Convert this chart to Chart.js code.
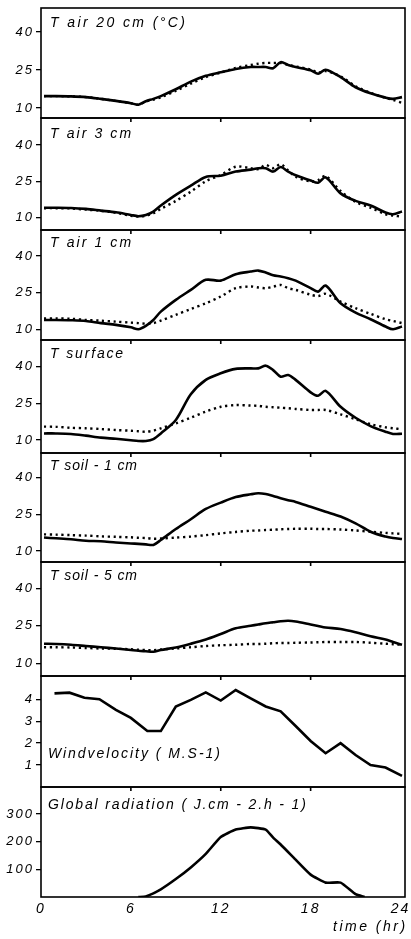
<!DOCTYPE html>
<html><head><meta charset="utf-8">
<script src="https://cdn.jsdelivr.net/npm/chart.js@4.4.1/dist/chart.umd.min.js"></script>
<style>
html,body{margin:0;padding:0;background:#fff;width:411px;height:939px;overflow:hidden;position:relative;}
canvas{position:absolute;left:0;}
.lbl{position:absolute;font-family:"Liberation Sans",Arial,sans-serif;font-style:italic;font-size:14px;line-height:14px;color:#000;white-space:pre;}
</style></head><body>
<script>
// ---- data ----
const hours = [0.2,1,2,3,4,5,6,6.5,7,7.5,8,9,10,11,12,13,14,14.5,15,15.5,16,16.5,17,18,18.5,19,20,21,22,23,23.5,24.1];
const tAir20Solid  = [14.7,14.7,14.6,14.3,13.6,12.8,11.9,11.3,12.7,13.6,14.7,17.4,20.4,22.7,24.1,25.4,26.2,26.2,26.2,25.7,28.1,27.0,26.2,24.9,23.5,25.1,22.2,18.2,15.8,14.1,13.6,14.3];
const tAir20Dotted = [14.7,14.7,14.6,14.3,13.6,12.8,11.9,11.3,12.5,13.3,14.2,16.8,19.6,22.2,24.0,25.8,27.0,27.5,27.8,27.8,27.8,27.0,26.4,25.2,24.0,24.6,22.5,18.6,16.0,14.0,13.2,12.0];
const tAir3Solid   = [14.1,14.1,14.0,13.6,12.9,12.2,11.1,10.6,11.1,12.5,15.0,19.4,23.2,26.8,27.3,29.0,29.8,30.4,30.4,29.0,30.9,29.0,27.5,25.3,24.4,26.6,20.0,16.9,15.0,12.1,11.4,12.5];
const tAir3Dotted  = [13.9,13.9,13.8,13.3,12.8,12.0,10.8,10.4,10.8,11.8,13.6,16.9,20.7,25.0,27.6,31.0,30.4,30.0,31.7,30.4,32.0,29.5,26.9,24.9,25.5,27.2,21.0,16.5,14.1,11.4,10.9,10.4];
const tAir1Solid   = [13.8,13.8,13.7,13.4,12.5,11.8,10.8,10.0,11.4,13.8,17.2,22.0,26.1,30.2,29.9,32.5,33.6,34.0,33.2,32.1,31.6,30.9,29.9,26.8,25.4,27.9,20.6,16.8,14.1,11.1,10.0,11.1];
const tAir1Dotted  = [14.4,14.4,14.3,13.8,13.5,13.1,12.7,12.5,12.3,12.5,13.5,15.9,18.3,20.6,23.4,26.8,27.5,27.1,26.8,27.4,28.1,26.8,26.1,24.1,23.6,24.5,21.3,18.6,16.3,14.1,13.4,12.5];
const tSurfSolid   = [12.7,12.7,12.5,11.8,11.0,10.5,9.9,9.6,9.6,10.4,12.7,18.2,28.7,34.6,37.3,39.1,39.3,39.3,40.4,38.6,35.9,36.6,34.6,29.5,28.1,30.1,23.6,19.1,15.7,13.4,12.5,12.6];
const tSurfDotted  = [15.5,15.4,15.0,14.8,14.5,14.1,13.8,13.6,13.4,13.8,14.8,16.8,19.1,21.6,23.6,24.3,24.1,24.0,23.6,23.4,23.2,23.0,22.7,22.3,22.3,22.3,20.5,18.5,16.5,15.2,14.8,14.4];
const tSoil1Solid  = [15.5,15.2,14.8,14.2,14.0,13.5,13.1,12.9,12.7,12.5,14.5,19.0,23.0,27.2,29.8,32.1,33.2,33.6,33.3,32.5,31.6,30.8,30.1,28.1,27.1,26.1,24.1,21.3,17.9,15.9,15.3,14.9];
const tSoil1Dotted = [16.8,16.7,16.5,16.3,16.0,15.8,15.6,15.4,15.3,15.0,15.1,15.5,15.9,16.5,17.2,17.8,18.3,18.4,18.6,18.7,18.9,19.0,19.1,19.1,19.0,19.0,18.8,18.4,17.9,17.4,17.2,17.0];
const tSoil5Solid  = [17.8,17.7,17.4,16.9,16.4,15.9,15.3,15.0,14.8,14.6,15.3,16.3,17.8,19.5,21.7,24.0,25.0,25.5,26.0,26.4,26.8,27.0,26.7,25.5,24.9,24.3,23.7,22.4,20.8,19.5,18.5,17.4];
const tSoil5Dotted = [16.4,16.4,16.3,16.1,15.9,15.8,15.6,15.4,15.3,15.2,15.5,15.9,16.4,16.9,17.2,17.4,17.7,17.7,17.8,18.0,18.1,18.1,18.2,18.3,18.4,18.5,18.5,18.5,18.2,17.8,17.6,17.4];
const windHours = [0.9,1.9,2.9,3.9,5,6,7.1,8,9,10,11,12,13,14,15,16,17,18,19,20,21,22,23,24.1];
const wind      = [4.27,4.3,4.07,4.0,3.52,3.15,2.55,2.55,3.67,3.97,4.31,3.94,4.42,4.04,3.67,3.45,2.78,2.1,1.54,2.0,1.46,1.0,0.89,0.51];
const radHours  = [6.5,7,8,9,10,11,12,13,14,15,15.5,16,17,18,19,20,21,21.6];
const radiation = [0,2,28,65,107,156,217,244,252,244,215,190,135,81,52,52,10,0];
const xTickValues    = [0,6,12,18,24];
const tempTickValues = [10,25,40];
const windTickValues = [1,2,3,4];
const radTickValues  = [100,200,300];
const panelTitles = ["T air 20 cm (°C)","T air 3 cm","T air 1 cm","T surface","T soil - 1 cm","T soil - 5 cm","Windvelocity ( M.S-1)","Global radiation ( J.cm - 2.h - 1)"];

// ---- layout / style ----
const FONT = '"Liberation Sans", Arial, sans-serif';
const INK = '#000';
const edges = [8,118,230,340,453,562,676,787,897];
const titlePos = [[50,27,2.4],[50,138,2.1],[50,247,2.1],[50,358,1.85],[50,470,0.9],[50,580,0.9],[48,758,1.95],[48,809,1.85]];

const pair = (xs, ys) => xs.map((x,i)=>({x:x, y:ys[i]}));
const solid = (xs, ys, t) => ({data:pair(xs,ys), borderColor:INK, borderWidth:2.6, pointRadius:0, tension:t, fill:false});
const dotted = (xs, ys) => ({data:pair(xs,ys), borderColor:INK, borderWidth:2.4, borderDash:[2.2,3.6], pointRadius:0, tension:0.3, fill:false});

const panels = [
  {sets:[solid(hours,tAir20Solid,0.3), dotted(hours,tAir20Dotted)], min:6.05, max:49.5, ticks:tempTickValues},
  {sets:[solid(hours,tAir3Solid,0.3), dotted(hours,tAir3Dotted)], min:4.9, max:51.1, ticks:tempTickValues},
  {sets:[solid(hours,tAir1Solid,0.3), dotted(hours,tAir1Dotted)], min:5.6, max:50.6, ticks:tempTickValues},
  {sets:[solid(hours,tSurfSolid,0.3), dotted(hours,tSurfDotted)], min:4.7, max:50.9, ticks:tempTickValues},
  {sets:[solid(hours,tSoil1Solid,0.3), dotted(hours,tSoil1Dotted)], min:5.5, max:50.1, ticks:tempTickValues},
  {sets:[solid(hours,tSoil5Solid,0.3), dotted(hours,tSoil5Dotted)], min:4.9, max:50.5, ticks:tempTickValues},
  {sets:[solid(windHours,wind,0)], min:0, max:5.06, ticks:windTickValues},
  {sets:[solid(radHours,radiation,0.15)], min:0, max:398, ticks:radTickValues},
];

const framePlugin = {
  id:'frame',
  beforeDraw(chart){ chart.ctx.letterSpacing = '2px'; },
  afterDraw(chart, args, opts){
    const ctx = chart.ctx, a = chart.chartArea, x = chart.scales.x;
    ctx.save();
    ctx.strokeStyle = INK; ctx.lineWidth = 1.6;
    ctx.strokeRect(a.left, a.top, a.right-a.left, a.bottom-a.top);
    if (opts.topTicks){
      [6,12,18].forEach(v=>{
        const px = x.getPixelForValue(v);
        ctx.beginPath(); ctx.moveTo(px, a.top); ctx.lineTo(px, a.top+4); ctx.stroke();
      });
    }
    ctx.restore();
  }
};

panels.forEach((p, i) => {
  const last = i === panels.length-1;
  const top = edges[i]-2;
  const h = (edges[i+1]-edges[i]) + 2 + (last ? 20 : 2);
  const cv = document.createElement('canvas');
  cv.width = 411; cv.height = h;
  cv.style.top = top+'px'; cv.style.width='411px'; cv.style.height=h+'px';
  document.body.appendChild(cv);
  new Chart(cv, {
    type:'line',
    data:{datasets:p.sets},
    plugins:[framePlugin],
    options:{
      responsive:false, animation:false, devicePixelRatio:1,
      layout:{padding:{left:0,right:6,top:2,bottom:last?0:2}},
      plugins:{legend:{display:false}, tooltip:{enabled:false}, frame:{topTicks:i>0}},
      scales:{
        x:{type:'linear', min:0, max:24.3, display:last,
           afterBuildTicks:s=>{s.ticks = xTickValues.map(v=>({value:v}));},
           afterFit:s=>{ if(last){ s.height = 20; } s.paddingLeft = 0; s.paddingRight = 0; },
           grid:{drawOnChartArea:false, drawTicks:false}, border:{display:false},
           ticks:{color:INK, font:{family:FONT, size:14, style:'italic'}, padding:4, autoSkip:false, maxRotation:0}},
        y:{min:p.min, max:p.max,
           afterBuildTicks:s=>{s.ticks = p.ticks.map(v=>({value:v}));},
           afterFit:s=>{ s.width = 41; s.paddingTop = 0; s.paddingBottom = 0; },
           grid:{drawOnChartArea:false, drawTicks:true, tickLength:5, color:INK, lineWidth:1.3}, border:{display:false},
           ticks:{color:INK, font:{family:FONT, size:13, style:'italic'}, padding:2, autoSkip:false}}
      }
    }
  });
});

panelTitles.forEach((t, i) => {
  const d = document.createElement('div');
  d.className = 'lbl';
  d.textContent = t;
  d.style.left = titlePos[i][0]+'px';
  d.style.top = (titlePos[i][1]-12)+'px';
  d.style.letterSpacing = titlePos[i][2]+'px';
  document.body.appendChild(d);
});
const tl = document.createElement('div');
tl.className = 'lbl'; tl.textContent = 'time (hr)';
tl.style.left = '333px'; tl.style.top = '919px'; tl.style.letterSpacing = '2.5px';
document.body.appendChild(tl);
</script>
</body></html>
